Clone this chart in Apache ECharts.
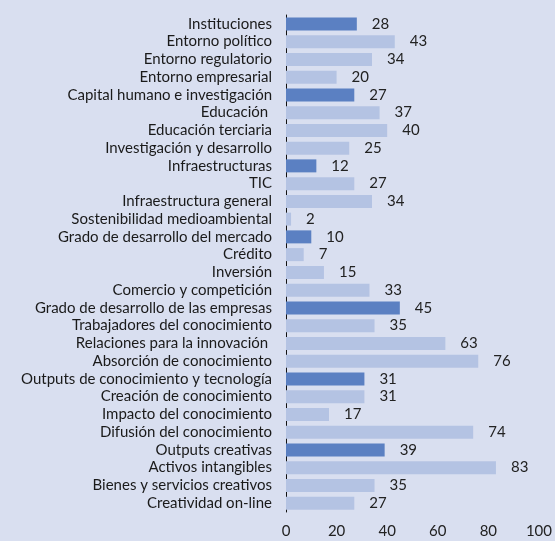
<!DOCTYPE html>
<html><head><meta charset="utf-8">
<script src="https://cdn.jsdelivr.net/npm/echarts@6/dist/echarts.min.js"></script>
<style>html,body{margin:0;padding:0;background:#d9dff0;}#c{width:555px;height:541px;}</style>
</head><body><div id="c"></div>
<script>
const categories = ["Instituciones","Entorno político","Entorno regulatorio","Entorno empresarial","Capital humano e investigación","Educación ","Educación terciaria","Investigación y desarrollo","Infraestructuras","TIC","Infraestructura general","Sostenibilidad medioambiental","Grado de desarrollo del mercado","Crédito","Inversión","Comercio y competición","Grado de desarrollo de las empresas","Trabajadores del conocimiento","Relaciones para la innovación ","Absorción de conocimiento","Outputs de conocimiento y tecnología","Creación de conocimiento","Impacto del conocimiento","Difusión del conocimiento","Outputs creativas","Activos intangibles","Bienes y servicios creativos","Creatividad on-line"];
const values = [28,43,34,20,27,37,40,25,12,27,34,2,10,7,15,33,45,35,63,76,31,31,17,74,39,83,35,27];
const pillars = [1,0,0,0,1,0,0,0,1,0,0,0,1,0,0,0,1,0,0,0,1,0,0,0,1,0,0,0];
const xTicks = [0,20,40,60,80,100];
const DARK = '#5b80c2', LIGHT = '#b4c3e3';
const FONT = 'Lato';
const chart = echarts.init(document.getElementById('c'));
chart.setOption({
  backgroundColor: '#d9dff0',
  animation: false,
  textStyle: {fontFamily: FONT},
  grid: {left: 286, right: 14, top: 15, bottom: 29, containLabel: false},
  xAxis: {type: 'value', min: xTicks[0], max: xTicks[xTicks.length - 1], interval: xTicks[1] - xTicks[0],
    axisLine: {show: false}, axisTick: {show: false}, splitLine: {show: false},
    axisLabel: {color: '#222', fontSize: 15, margin: 12, fontFamily: FONT}},
  yAxis: {type: 'category', inverse: true, data: categories,
    axisLine: {show: true, lineStyle: {color: '#111', width: 1}},
    axisTick: {show: false},
    axisLabel: {interval: 0, color: '#1a1a1a', fontSize: 15, margin: 14, fontFamily: FONT}},
  series: [{type: 'bar', barWidth: 13,
    data: values.map((v, i) => ({value: v, itemStyle: {color: pillars[i] ? DARK : LIGHT}})),
    label: {show: true, position: 'right', distance: 15, color: '#222', fontSize: 15, fontFamily: FONT}
  }]
});
</script></body></html>
